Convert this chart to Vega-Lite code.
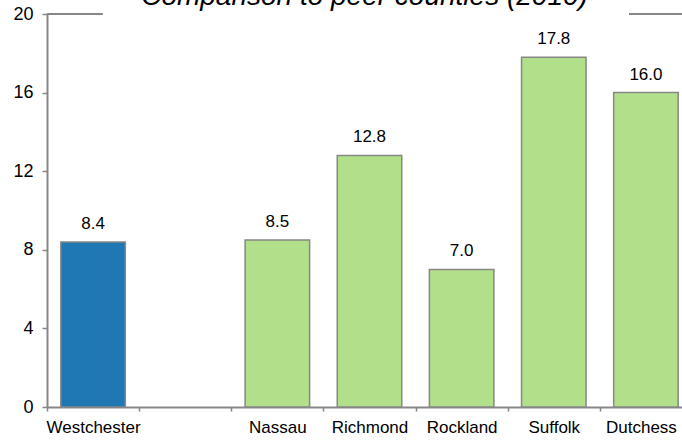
{
  "$schema": "https://vega.github.io/schema/vega-lite/v6.json",
  "width": 635,
  "height": 393,
  "autosize": {"type": "none"},
  "padding": {"left": 47, "top": 14, "right": 0, "bottom": 33},
  "background": "white",
  "title": {
    "text": "Comparison to peer counties  (2010)",
    "font": "Liberation Sans",
    "fontSize": 28,
    "fontStyle": "italic",
    "fontWeight": "normal",
    "color": "black",
    "anchor": "middle",
    "frame": "group",
    "baseline": "alphabetic",
    "offset": -28
  },
  "config": {"view": {"stroke": null}, "font": "Liberation Sans"},
  "data": {
    "values": [
      {"county": "Westchester", "value": 8.4, "group": "Westchester"},
      {"county": "Nassau", "value": 8.5, "group": "Peer"},
      {"county": "Richmond", "value": 12.8, "group": "Peer"},
      {"county": "Rockland", "value": 7.0, "group": "Peer"},
      {"county": "Suffolk", "value": 17.8, "group": "Peer"},
      {"county": "Dutchess", "value": 16.0, "group": "Peer"}
    ]
  },
  "layer": [
    {
      "mark": {"type": "bar", "width": {"band": 0.7}, "stroke": "#878787", "strokeWidth": 1.5},
      "encoding": {
        "x": {
          "field": "county",
          "type": "nominal",
          "sort": null,
          "scale": {
            "domain": ["Westchester", " ", "Nassau", "Richmond", "Rockland", "Suffolk", "Dutchess"],
            "range": [0, 645],
            "paddingInner": 0,
            "paddingOuter": 0
          },
          "axis": {
            "title": null,
            "tickBand": "extent",
            "tickSize": 4,
            "tickColor": "#878787",
            "tickWidth": 1.5,
            "domainColor": "#878787",
            "domainWidth": 2,
            "labelFontSize": 17,
            "labelAngle": 0,
            "labelColor": "black",
            "labelPadding": 8,
            "labelOffset": {"condition": {"test": "datum.value === 'Dutchess'", "value": -5}, "value": 0}
          }
        },
        "y": {
          "field": "value",
          "type": "quantitative",
          "scale": {"domain": [0, 20], "nice": false, "zero": true},
          "axis": {
            "title": null,
            "values": [0, 4, 8, 12, 16, 20],
            "grid": false,
            "domainColor": "#878787",
            "domainWidth": 2,
            "tickColor": "#878787",
            "tickWidth": 1.5,
            "tickSize": 5,
            "labelFontSize": 18,
            "labelColor": "black",
            "labelPadding": 9,
            "labelFlush": false,
            "labelOverlap": false
          }
        },
        "color": {
          "field": "group",
          "type": "nominal",
          "scale": {"domain": ["Westchester", "Peer"], "range": ["#1f78b4", "#b2df8a"]},
          "legend": null
        }
      }
    },
    {
      "mark": {"type": "text", "baseline": "alphabetic", "dy": -13, "fontSize": 17, "color": "black"},
      "encoding": {
        "x": {"field": "county", "type": "nominal", "sort": null},
        "y": {"field": "value", "type": "quantitative"},
        "text": {"field": "value", "type": "quantitative", "format": ".1f"}
      }
    },
    {
      "mark": {"type": "rule", "color": "#878787", "strokeWidth": 2},
      "encoding": {
        "x": {"datum": "Westchester", "type": "nominal", "bandPosition": 0},
        "x2": {"datum": "Westchester", "bandPosition": 0.6},
        "y": {"datum": 20, "type": "quantitative"}
      }
    },
    {
      "mark": {"type": "rule", "color": "#878787", "strokeWidth": 2},
      "encoding": {
        "x": {"datum": "Dutchess", "type": "nominal", "bandPosition": 0.32},
        "x2": {"datum": "Dutchess", "bandPosition": 1},
        "y": {"datum": 20, "type": "quantitative"}
      }
    }
  ]
}
